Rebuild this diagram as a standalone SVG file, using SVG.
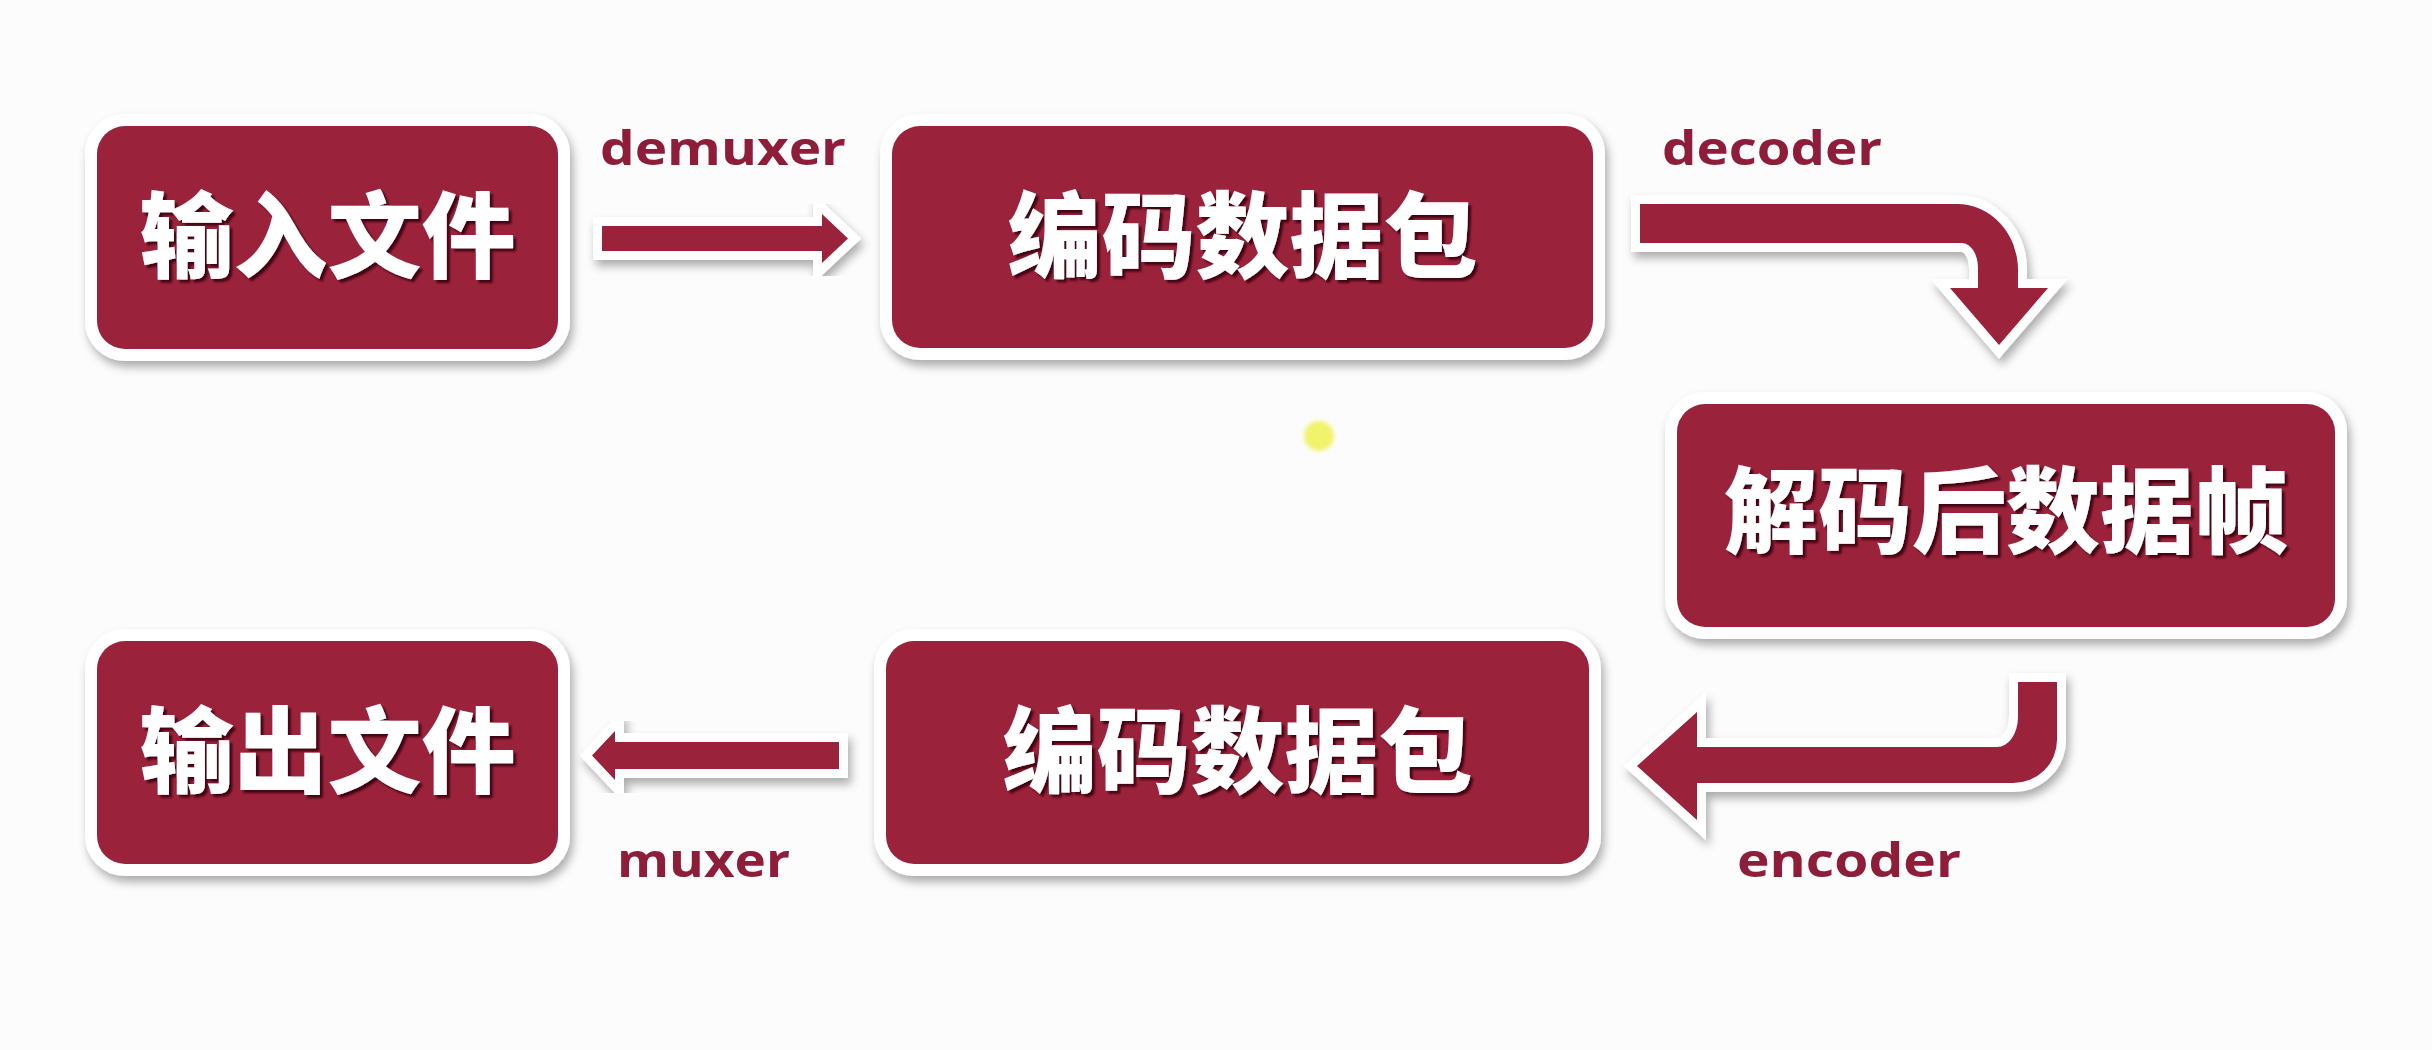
<svg xmlns="http://www.w3.org/2000/svg" width="2432" height="1050" viewBox="0 0 2432 1050">
  <defs>
    <filter id="sh" x="-10%" y="-20%" width="125%" height="145%">
      <feDropShadow dx="3" dy="6" stdDeviation="5" flood-color="#000" flood-opacity="0.32"/>
    </filter>
    <filter id="ts" x="-5%" y="-10%" width="112%" height="125%">
      <feDropShadow dx="3" dy="3" stdDeviation="1.2" flood-color="#3a0510" flood-opacity="0.9"/>
    </filter>
    <filter id="blur" x="-50%" y="-50%" width="200%" height="200%">
      <feGaussianBlur stdDeviation="2"/>
    </filter>
    <style>
      .box { fill: #9b203b; stroke: #ffffff; stroke-width: 24; paint-order: stroke; }
      .arrow { fill: #9b203b; stroke: #ffffff; stroke-width: 18; stroke-linejoin: miter; stroke-miterlimit: 10; paint-order: stroke; }
      .node-text { fill: #ffffff; font-family: "Noto Sans CJK SC", "Noto Sans", sans-serif; font-weight: 900; font-size: 94px; text-anchor: middle; }
      .label { fill: #8e1d3a; font-family: "Open Sans", "Liberation Sans", sans-serif; font-weight: 700; font-size: 47px; }
    </style>
  </defs>

  <rect x="0" y="0" width="2432" height="1050" fill="#fcfcfc"/>

  <g id="connectors">
    <g id="edge-demuxer">
      <path class="arrow" filter="url(#sh)" d="M602,226 H822 V214 L848,238.5 L822,263 V251 H602 Z"/>
      <text class="label" x="600" y="165" textLength="246" lengthAdjust="spacingAndGlyphs">demuxer</text>
    </g>
    <g id="edge-decoder">
      <path class="arrow" filter="url(#sh)" d="M1640,204 H1957 A61,66 0 0 1 2018,270 V288 H2048 L1999,345 L1950,288 H1978 V268 A16,25 0 0 0 1962,243 H1640 Z"/>
      <text class="label" x="1662" y="165" textLength="220" lengthAdjust="spacingAndGlyphs">decoder</text>
    </g>
    <g id="edge-encoder">
      <path class="arrow" filter="url(#sh)" d="M2018,682 H2057 V740 A44,43 0 0 1 2013,783 H1697 V820 L1637,766 L1697,712 V747 H1997 A21,30 0 0 0 2018,717 Z"/>
      <text class="label" x="1737" y="877" textLength="224" lengthAdjust="spacingAndGlyphs">encoder</text>
    </g>
    <g id="edge-muxer">
      <path class="arrow" filter="url(#sh)" d="M839,742 H615 V731 L592,755.5 L615,780 V769 H839 Z"/>
      <text class="label" x="617" y="877" textLength="173" lengthAdjust="spacingAndGlyphs">muxer</text>
    </g>
  </g>

  <g id="node-input">
    <rect class="box" filter="url(#sh)" x="97" y="126" width="461" height="223" rx="28"/>
    <text class="node-text" filter="url(#ts)" x="327.5" y="271">输入文件</text>
  </g>
  <g id="node-packet-top">
    <rect class="box" filter="url(#sh)" x="892" y="126" width="701" height="222" rx="28"/>
    <text class="node-text" filter="url(#ts)" x="1242.5" y="271">编码数据包</text>
  </g>
  <g id="node-frame">
    <rect class="box" filter="url(#sh)" x="1677" y="404" width="658" height="223" rx="28"/>
    <text class="node-text" filter="url(#ts)" x="2006" y="546">解码后数据帧</text>
  </g>
  <g id="node-packet-bottom">
    <rect class="box" filter="url(#sh)" x="886" y="641" width="703" height="223" rx="28"/>
    <text class="node-text" filter="url(#ts)" x="1237.5" y="786">编码数据包</text>
  </g>
  <g id="node-output">
    <rect class="box" filter="url(#sh)" x="97" y="641" width="461" height="223" rx="28"/>
    <text class="node-text" filter="url(#ts)" x="327.5" y="786">输出文件</text>
  </g>

  <circle cx="1319" cy="436" r="15" fill="#f1f36a" filter="url(#blur)"/>
</svg>
